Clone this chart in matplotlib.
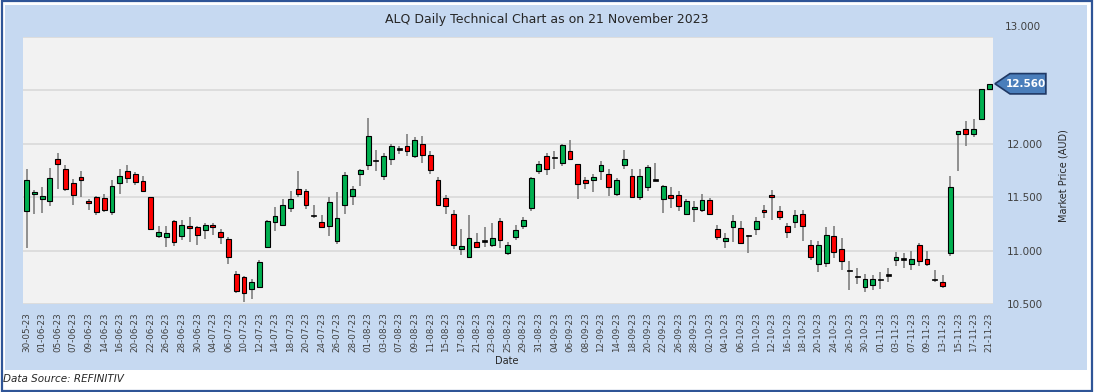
import matplotlib
matplotlib.use("Agg")
import matplotlib.pyplot as plt
from matplotlib.patches import Rectangle, Polygon
from matplotlib.transforms import blended_transform_factory

# tick labels (every second trading day)
tick_labels = [
    "30-05-23", "01-06-23", "05-06-23", "07-06-23", "09-06-23", "14-06-23", "16-06-23",
    "20-06-23", "22-06-23", "26-06-23", "28-06-23", "30-06-23", "04-07-23", "06-07-23",
    "10-07-23", "12-07-23", "14-07-23", "18-07-23", "20-07-23", "24-07-23", "26-07-23",
    "28-07-23", "01-08-23", "03-08-23", "07-08-23", "09-08-23", "11-08-23", "15-08-23",
    "17-08-23", "21-08-23", "23-08-23", "25-08-23", "29-08-23", "31-08-23", "04-09-23",
    "06-09-23", "08-09-23", "12-09-23", "14-09-23", "18-09-23", "20-09-23", "22-09-23",
    "26-09-23", "28-09-23", "02-10-23", "04-10-23", "06-10-23", "10-10-23", "12-10-23",
    "16-10-23", "18-10-23", "20-10-23", "24-10-23", "26-10-23", "30-10-23", "01-11-23",
    "03-11-23", "07-11-23", "09-11-23", "13-11-23", "15-11-23", "17-11-23", "21-11-23",
]

# daily OHLC, AUD
opens = [
    11.37, 11.53, 11.48, 11.46, 11.86, 11.76, 11.63, 11.69, 11.46, 11.50,
    11.49, 11.36, 11.63, 11.74, 11.72, 11.65, 11.50, 11.14, 11.13, 11.28,
    11.14, 11.23, 11.22, 11.19, 11.24, 11.17, 11.11, 10.78, 10.75, 10.64,
    10.66, 11.03, 11.27, 11.24, 11.40, 11.58, 11.56, 11.33, 11.27, 11.23,
    11.09, 11.43, 11.51, 11.72, 11.80, 11.84, 11.70, 11.86, 11.95, 11.98,
    11.88, 12.00, 11.89, 11.66, 11.49, 11.34, 11.01, 10.94, 11.08, 11.09,
    11.05, 11.28, 10.98, 11.13, 11.23, 11.40, 11.74, 11.88, 11.87, 11.82,
    11.93, 11.81, 11.66, 11.66, 11.74, 11.72, 11.53, 11.80, 11.70, 11.50,
    11.59, 11.66, 11.48, 11.52, 11.52, 11.34, 11.39, 11.38, 11.47, 11.20,
    11.09, 11.22, 11.21, 11.14, 11.20, 11.38, 11.52, 11.37, 11.23, 11.27,
    11.34, 11.05, 10.87, 10.88, 11.14, 11.01, 10.81, 10.76, 10.66, 10.68,
    10.73, 10.77, 10.91, 10.92, 10.87, 11.05, 10.92, 10.73, 10.71, 10.98,
    12.09, 12.14, 12.09, 12.23, 12.51,
]
highs = [
    11.76, 11.57, 11.59, 11.77, 11.91, 11.80, 11.67, 11.74, 11.48, 11.51,
    11.53, 11.66, 11.76, 11.80, 11.73, 11.70, 11.50, 11.23, 11.23, 11.29,
    11.29, 11.31, 11.23, 11.26, 11.26, 11.20, 11.13, 10.81, 10.76, 10.73,
    10.91, 11.29, 11.41, 11.48, 11.56, 11.74, 11.58, 11.43, 11.33, 11.50,
    11.55, 11.73, 11.60, 11.76, 12.24, 11.94, 11.91, 12.00, 11.98, 12.09,
    12.06, 12.07, 11.93, 11.69, 11.52, 11.38, 11.20, 11.33, 11.16, 11.22,
    11.26, 11.30, 11.08, 11.24, 11.31, 11.69, 11.84, 11.91, 11.93, 12.00,
    12.03, 11.81, 11.69, 11.72, 11.84, 11.76, 11.68, 11.94, 11.76, 11.76,
    11.80, 11.82, 11.61, 11.59, 11.56, 11.48, 11.46, 11.53, 11.49, 11.24,
    11.16, 11.33, 11.28, 11.15, 11.31, 11.43, 11.57, 11.42, 11.26, 11.38,
    11.38, 11.10, 11.09, 11.22, 11.23, 11.12, 10.90, 10.84, 10.78, 10.77,
    10.80, 10.84, 10.99, 10.98, 11.00, 11.07, 11.00, 10.82, 10.77, 11.70,
    12.12, 12.21, 12.23, 12.51, 12.56,
]
lows = [
    11.02, 11.34, 11.35, 11.42, 11.58, 11.56, 11.43, 11.50, 11.38, 11.33,
    11.36, 11.33, 11.53, 11.63, 11.61, 11.55, 11.19, 11.12, 11.03, 11.04,
    11.10, 11.08, 11.05, 11.11, 11.15, 11.06, 10.87, 10.60, 10.52, 10.55,
    10.66, 11.02, 11.18, 11.24, 11.36, 11.50, 11.39, 11.30, 11.22, 11.14,
    11.06, 11.34, 11.43, 11.60, 11.75, 11.74, 11.66, 11.80, 11.90, 11.88,
    11.87, 11.82, 11.72, 11.43, 11.34, 11.01, 10.96, 10.93, 11.03, 11.03,
    11.03, 11.02, 10.96, 11.10, 11.20, 11.37, 11.72, 11.71, 11.76, 11.79,
    11.85, 11.48, 11.58, 11.55, 11.66, 11.51, 11.51, 11.76, 11.49, 11.47,
    11.56, 11.65, 11.35, 11.40, 11.37, 11.33, 11.27, 11.36, 11.33, 11.10,
    11.02, 11.08, 11.07, 10.98, 11.15, 11.30, 11.29, 11.29, 11.12, 11.21,
    11.09, 10.91, 10.80, 10.85, 10.93, 10.82, 10.63, 10.69, 10.61, 10.63,
    10.64, 10.71, 10.86, 10.84, 10.82, 10.86, 10.86, 10.71, 10.65, 10.95,
    11.74, 11.98, 12.06, 12.22, 12.50,
]
closes = [
    11.66, 11.55, 11.51, 11.68, 11.81, 11.58, 11.52, 11.66, 11.44, 11.36,
    11.38, 11.60, 11.70, 11.68, 11.64, 11.56, 11.20, 11.17, 11.16, 11.08,
    11.24, 11.21, 11.15, 11.24, 11.22, 11.13, 10.94, 10.62, 10.60, 10.71,
    10.89, 11.28, 11.32, 11.43, 11.48, 11.53, 11.43, 11.33, 11.22, 11.45,
    11.30, 11.71, 11.58, 11.75, 12.07, 11.84, 11.88, 11.98, 11.95, 11.93,
    12.03, 11.89, 11.75, 11.43, 11.42, 11.05, 11.04, 11.12, 11.03, 11.09,
    11.12, 11.10, 11.05, 11.19, 11.29, 11.68, 11.81, 11.76, 11.87, 11.99,
    11.86, 11.62, 11.63, 11.69, 11.80, 11.59, 11.66, 11.86, 11.50, 11.70,
    11.78, 11.66, 11.60, 11.49, 11.42, 11.46, 11.41, 11.47, 11.34, 11.13,
    11.12, 11.28, 11.07, 11.14, 11.28, 11.36, 11.50, 11.31, 11.17, 11.33,
    11.23, 10.94, 11.05, 11.15, 10.99, 10.90, 10.81, 10.76, 10.73, 10.73,
    10.73, 10.77, 10.94, 10.92, 10.92, 10.90, 10.87, 10.73, 10.67, 11.59,
    12.12, 12.09, 12.14, 12.51, 12.56,
]
last_price = "12.560"

fig = plt.figure(figsize=(10.94, 3.92), dpi=100)
fig.patch.set_facecolor("white")

# outer frame and light blue chart panel
frame = Rectangle((0.0015, 0.003), 0.997, 0.994, transform=fig.transFigure,
                  fill=False, edgecolor="#2F5597", linewidth=1.6, zorder=-2)
panel = Rectangle((5 / 1094, 1 - 370 / 392), 1082 / 1094, 365 / 392,
                  transform=fig.transFigure, facecolor="#C6D9F1",
                  edgecolor="none", zorder=-3)
fig.patches.extend([panel, frame])

ax = fig.add_axes([22.7 / 1094, 1 - 304 / 392, 970.3 / 1094, 267.3 / 392])
ax.set_zorder(2)
ax.set_facecolor("#F2F2F2")
for s in ax.spines.values():
    s.set_visible(False)

x = list(range(len(opens)))
ax.vlines(x, lows, highs, color="#7F7F7F", linewidth=1.2, zorder=2)
for i in x:
    o, c = opens[i], closes[i]
    if abs(c - o) < 0.005:
        ax.bar(i, 0.012, bottom=o - 0.006, width=0.62, color="black",
               edgecolor="black", linewidth=0.5, zorder=3)
    else:
        ax.bar(i, abs(c - o), bottom=min(o, c), width=0.62,
               color="#00B050" if c > o else "#FF0000",
               edgecolor="black", linewidth=0.8, zorder=3)

ax.set_xlim(-0.5, 124.5)
ax.set_ylim(10.5, 13.0)
ax.set_yticks([10.5, 11.0, 11.5, 12.0, 12.5, 13.0])
ax.set_yticklabels(["10.500", "11.000", "11.500", "12.000", "", ""])
ax.yaxis.tick_right()
ax.grid(axis="y", color="#D9D9D9", linewidth=1.2)
ax.set_axisbelow(True)
ax.tick_params(axis="y", length=0, pad=10, labelsize=7.5, labelcolor="#404040")
ax.set_xticks(range(0, len(opens), 2))
ax.set_xticklabels(tick_labels, rotation=90, fontsize=6.3, color="#404040")
ax.tick_params(axis="x", length=0, pad=6)
# top axis label sits slightly above the plot edge in the original
fig.text(1005 / 1094, 1 - 27 / 392, "13.000", ha="left", va="center",
         fontsize=7.5, color="#404040")

# last price callout
tr = blended_transform_factory(ax.transAxes, ax.transData)
y0 = closes[-1]
h = 0.095
callout = Polygon([(1.002, y0), (1.0175, y0 + h), (1.0545, y0 + h),
                   (1.0545, y0 - h), (1.0175, y0 - h)], closed=True,
                  transform=tr, facecolor="#4A7EBB", edgecolor="#1F3864",
                  linewidth=1.2, clip_on=False, zorder=5)
ax.add_patch(callout)
ax.text(1.0335, y0, last_price, transform=tr, ha="center", va="center",
        color="white", fontsize=7.5, fontweight="bold", zorder=6)

fig.text(0.5, 1 - 19 / 392, "ALQ Daily Technical Chart as on 21 November 2023",
         ha="center", va="center", fontsize=9, color="#262626")
fig.text(1063 / 1094, 1 - 176 / 392, "Market Price (AUD)", rotation=90,
         ha="center", va="center", fontsize=7, color="#262626")
fig.text(507 / 1094, 1 - 361 / 392, "Date", ha="center", va="center",
         fontsize=7, color="#262626")
fig.text(3 / 1094, 1 - 379 / 392, "Data Source: REFINITIV", ha="left", va="center",
         fontsize=7.5, style="italic", color="#262626")

fig.savefig("out.png", dpi=100)
